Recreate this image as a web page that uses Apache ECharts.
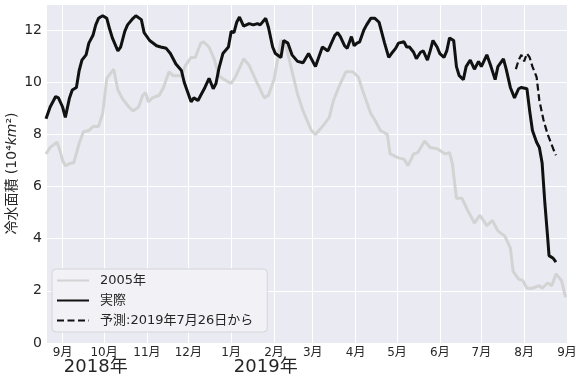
<!DOCTYPE html>
<html>
<head>
<meta charset="utf-8">
<script src="https://cdn.jsdelivr.net/npm/echarts@6/dist/echarts.min.js"></script>
<style>
  html, body { margin: 0; padding: 0; background: #fff; }
  #chart { width: 582px; height: 380px; }
</style>
</head>
<body>
<div id="chart"></div>
<script>
// 冷水面積 (10^4 km^2)
const actual = [
  ['2018-08-20', 8.6], ['2018-08-23', 9.05], ['2018-08-27', 9.45], ['2018-08-29', 9.4],
  ['2018-09-01', 9.05], ['2018-09-03', 8.65], ['2018-09-06', 9.4], ['2018-09-08', 9.7],
  ['2018-09-11', 9.8], ['2018-09-13', 10.45], ['2018-09-15', 10.85], ['2018-09-18', 11.05],
  ['2018-09-20', 11.5], ['2018-09-23', 11.8], ['2018-09-25', 12.2], ['2018-09-27', 12.45],
  ['2018-09-30', 12.55], ['2018-10-03', 12.45], ['2018-10-05', 12.05], ['2018-10-07', 11.7],
  ['2018-10-11', 11.2], ['2018-10-13', 11.35], ['2018-10-16', 11.95], ['2018-10-18', 12.2],
  ['2018-10-22', 12.45], ['2018-10-24', 12.55], ['2018-10-28', 12.4], ['2018-10-30', 11.9],
  ['2018-11-03', 11.6], ['2018-11-08', 11.4], ['2018-11-11', 11.35], ['2018-11-15', 11.3],
  ['2018-11-18', 11.1], ['2018-11-22', 10.7], ['2018-11-26', 10.45], ['2018-11-28', 10.0],
  ['2018-12-01', 9.55], ['2018-12-03', 9.25], ['2018-12-05', 9.4], ['2018-12-08', 9.3],
  ['2018-12-10', 9.5], ['2018-12-13', 9.8], ['2018-12-16', 10.15], ['2018-12-19', 9.75],
  ['2018-12-21', 9.95], ['2018-12-23', 10.5], ['2018-12-26', 11.1], ['2018-12-30', 11.35],
  ['2019-01-01', 11.95], ['2019-01-03', 11.9], ['2019-01-05', 12.3], ['2019-01-07', 12.5],
  ['2019-01-10', 12.15], ['2019-01-14', 12.25], ['2019-01-17', 12.2], ['2019-01-20', 12.25],
  ['2019-01-22', 12.2], ['2019-01-26', 12.45], ['2019-01-28', 12.1], ['2019-01-31', 11.35],
  ['2019-02-02', 11.1], ['2019-02-06', 10.95], ['2019-02-08', 11.6], ['2019-02-11', 11.5],
  ['2019-02-14', 11.05], ['2019-02-18', 10.8], ['2019-02-22', 10.75], ['2019-02-26', 11.1],
  ['2019-03-03', 10.6], ['2019-03-08', 11.35], ['2019-03-12', 11.2], ['2019-03-17', 11.8],
  ['2019-03-19', 11.9], ['2019-03-21', 11.75], ['2019-03-24', 11.4], ['2019-03-26', 11.3],
  ['2019-03-29', 11.75], ['2019-03-31', 11.4], ['2019-04-02', 11.5], ['2019-04-04', 11.55],
  ['2019-04-07', 12.0], ['2019-04-09', 12.2], ['2019-04-12', 12.45], ['2019-04-15', 12.45],
  ['2019-04-18', 12.3], ['2019-04-20', 11.9], ['2019-04-22', 11.5], ['2019-04-25', 10.95],
  ['2019-04-27', 11.1], ['2019-04-30', 11.3], ['2019-05-02', 11.5], ['2019-05-06', 11.55],
  ['2019-05-08', 11.35], ['2019-05-10', 11.35], ['2019-05-13', 11.15], ['2019-05-15', 10.9],
  ['2019-05-18', 11.15], ['2019-05-20', 11.2], ['2019-05-23', 10.85], ['2019-05-25', 11.2],
  ['2019-05-27', 11.6], ['2019-05-30', 11.35], ['2019-06-01', 11.1], ['2019-06-04', 10.95],
  ['2019-06-06', 11.2], ['2019-06-08', 11.7], ['2019-06-11', 11.6], ['2019-06-13', 10.6],
  ['2019-06-15', 10.25], ['2019-06-18', 10.1], ['2019-06-20', 10.6], ['2019-06-23', 10.85],
  ['2019-06-26', 10.5], ['2019-06-29', 10.8], ['2019-07-01', 10.6], ['2019-07-05', 11.05],
  ['2019-07-08', 10.6], ['2019-07-11', 10.1], ['2019-07-13', 10.6], ['2019-07-17', 10.9],
  ['2019-07-19', 10.5], ['2019-07-22', 9.8], ['2019-07-25', 9.4], ['2019-07-28', 9.75],
  ['2019-07-30', 9.8], ['2019-08-03', 9.75], ['2019-08-05', 8.9], ['2019-08-07', 8.15],
  ['2019-08-10', 7.7], ['2019-08-12', 7.5], ['2019-08-14', 6.9], ['2019-08-16', 5.35],
  ['2019-08-18', 4.05], ['2019-08-19', 3.35], ['2019-08-22', 3.25], ['2019-08-24', 3.1]
];

const year2005 = [
  ['2018-08-20', 7.25], ['2018-08-23', 7.5], ['2018-08-28', 7.7], ['2018-08-30', 7.4],
  ['2018-09-01', 7.0], ['2018-09-03', 6.8], ['2018-09-07', 6.9], ['2018-09-09', 6.9],
  ['2018-09-13', 7.65], ['2018-09-16', 8.1], ['2018-09-20', 8.15], ['2018-09-23', 8.3],
  ['2018-09-27', 8.3], ['2018-09-30', 8.8], ['2018-10-03', 10.15], ['2018-10-04', 10.2],
  ['2018-10-08', 10.5], ['2018-10-11', 9.7], ['2018-10-14', 9.4], ['2018-10-16', 9.25],
  ['2018-10-19', 9.05], ['2018-10-22', 8.9], ['2018-10-26', 9.05], ['2018-10-29', 9.5],
  ['2018-10-31', 9.6], ['2018-11-02', 9.25], ['2018-11-05', 9.4], ['2018-11-10', 9.5],
  ['2018-11-13', 9.8], ['2018-11-17', 10.4], ['2018-11-20', 10.25], ['2018-11-26', 10.25],
  ['2018-11-29', 10.65], ['2018-12-03', 10.95], ['2018-12-06', 10.95], ['2018-12-10', 11.5],
  ['2018-12-12', 11.55], ['2018-12-16', 11.35], ['2018-12-20', 10.85], ['2018-12-23', 10.25],
  ['2018-12-27', 10.1], ['2019-01-01', 9.95], ['2019-01-04', 10.2], ['2019-01-10', 10.9],
  ['2019-01-14', 10.65], ['2019-01-20', 9.95], ['2019-01-25', 9.4], ['2019-01-28', 9.5],
  ['2019-02-01', 10.1], ['2019-02-06', 11.6], ['2019-02-09', 11.55], ['2019-02-13', 10.65],
  ['2019-02-18', 9.55], ['2019-02-22', 8.9], ['2019-02-28', 8.15], ['2019-03-03', 8.0],
  ['2019-03-08', 8.3], ['2019-03-13', 8.65], ['2019-03-16', 9.3], ['2019-03-21', 9.95],
  ['2019-03-25', 10.4], ['2019-03-30', 10.4], ['2019-04-03', 10.2], ['2019-04-06', 9.7],
  ['2019-04-12', 8.8], ['2019-04-15', 8.55], ['2019-04-19', 8.15], ['2019-04-24', 8.0],
  ['2019-04-26', 7.25], ['2019-05-02', 7.1], ['2019-05-06', 7.05], ['2019-05-09', 6.8],
  ['2019-05-13', 7.25], ['2019-05-16', 7.3], ['2019-05-21', 7.75], ['2019-05-25', 7.5],
  ['2019-05-30', 7.45], ['2019-06-05', 7.25], ['2019-06-08', 7.3], ['2019-06-10', 6.9],
  ['2019-06-13', 5.55], ['2019-06-17', 5.55], ['2019-06-21', 5.1], ['2019-06-26', 4.6],
  ['2019-06-30', 4.9], ['2019-07-05', 4.5], ['2019-07-09', 4.7], ['2019-07-13', 4.3],
  ['2019-07-18', 4.1], ['2019-07-22', 3.65], ['2019-07-24', 2.75], ['2019-07-28', 2.45],
  ['2019-07-31', 2.4], ['2019-08-03', 2.1], ['2019-08-07', 2.1], ['2019-08-12', 2.2],
  ['2019-08-14', 2.1], ['2019-08-18', 2.3], ['2019-08-21', 2.2], ['2019-08-24', 2.65],
  ['2019-08-28', 2.4], ['2019-08-31', 1.75]
];

// 予測: 2019年7月26日から
const forecast = [
  ['2019-07-26', 10.5], ['2019-07-28', 10.85], ['2019-07-30', 11.05], ['2019-08-01', 10.8],
  ['2019-08-03', 11.1], ['2019-08-05', 10.95], ['2019-08-07', 10.6], ['2019-08-10', 10.2],
  ['2019-08-12', 9.3], ['2019-08-15', 8.55], ['2019-08-18', 8.0], ['2019-08-22', 7.45],
  ['2019-08-24', 7.2]
];

const yearLabels = [['2018-09-25', '2018年'], ['2019-01-26', '2019年']];

const FONT = 'DejaVu Sans, "Noto Sans CJK JP", sans-serif';
const chart = echarts.init(document.getElementById('chart'));

chart.setOption({
  animation: false,
  textStyle: { fontFamily: FONT },
  grid: {
    left: 46, right: 15, top: 4, bottom: 37,
    outerBoundsMode: 'none',
    containLabel: false,
    show: true, backgroundColor: '#EAEAF2', borderWidth: 0
  },
  legend: {
    orient: 'vertical',
    left: 52, top: 269,
    padding: [5, 14, 5, 4],
    itemGap: 7,
    itemWidth: 32,
    itemHeight: 14,
    itemStyle: { opacity: 0 },
    backgroundColor: 'rgba(242,242,246,0.9)',
    borderColor: '#d4d4da',
    borderWidth: 1,
    borderRadius: 4,
    textStyle: { fontSize: 13, color: '#262626', fontFamily: FONT, padding: [0, 0, 0, 6] },
    data: ['2005年', '実際', '予測:2019年7月26日から']
  },
  xAxis: {
    type: 'time',
    min: '2018-08-20',
    max: '2019-09-01',
    splitNumber: 14,
    axisLine: { show: false },
    axisTick: { show: false },
    splitLine: { show: true, lineStyle: { color: '#fff', width: 1 } },
    axisLabel: {
      fontSize: 12, color: '#262626', margin: 4, fontFamily: FONT,
      formatter: v => (new Date(v).getMonth() + 1) + '月'
    }
  },
  yAxis: {
    type: 'value',
    min: 0, max: 13, interval: 2,
    axisLine: { show: false },
    axisTick: { show: false },
    splitLine: { lineStyle: { color: '#fff', width: 1 } },
    axisLabel: { fontSize: 14, color: '#262626', margin: 4, showMaxLabel: false, fontFamily: FONT },
    name: '冷水面積 (10⁴{i|km}²)',
    nameLocation: 'middle',
    nameGap: 27,
    nameMoveOverlap: false,
    nameTextStyle: {
      fontSize: 14, color: '#262626', fontFamily: FONT,
      rich: { i: { fontStyle: 'italic', fontSize: 14, color: '#262626', fontFamily: FONT } }
    }
  },
  series: [
    {
      name: '2005年', type: 'line', data: year2005, symbol: 'none', z: 1,
      lineStyle: { color: '#d3d3d3', width: 3 }, itemStyle: { color: '#d3d3d3' }
    },
    {
      name: '実際', type: 'line', data: actual, symbol: 'none', z: 3,
      lineStyle: { color: '#111', width: 3 }, itemStyle: { color: '#111' }
    },
    {
      name: '予測:2019年7月26日から', type: 'line', data: forecast, symbol: 'none', z: 2,
      lineStyle: { color: '#111', width: 2.2, type: [7, 3.5] }, itemStyle: { color: '#111' }
    }
  ]
});

// year labels under the month ticks
chart.setOption({
  graphic: yearLabels.map(([d, t]) => ({
    type: 'text',
    x: chart.convertToPixel({ xAxisIndex: 0 }, d),
    y: 367,
    style: {
      text: t, fontSize: 18, fontFamily: FONT, fill: '#262626',
      align: 'center', verticalAlign: 'middle'
    }
  }))
});
</script>
</body>
</html>
